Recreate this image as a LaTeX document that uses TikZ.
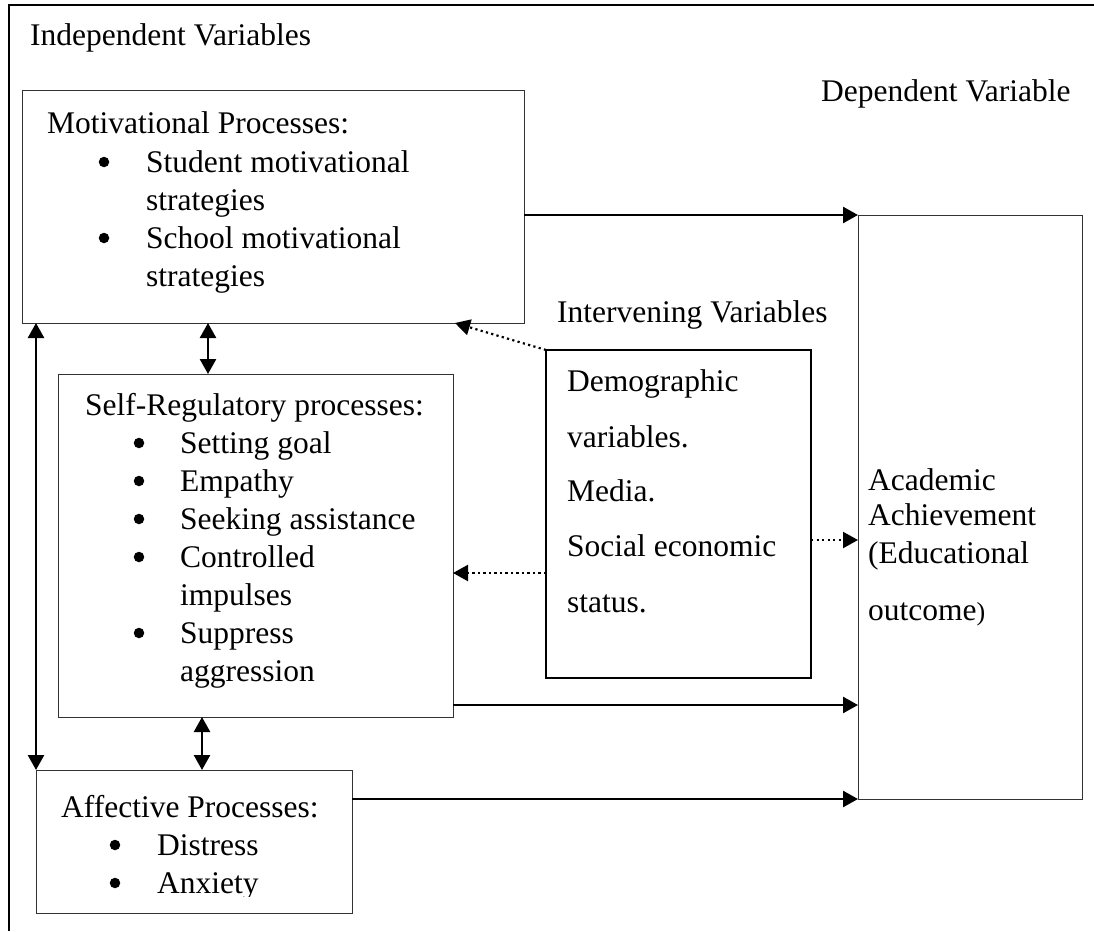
\documentclass[tikz,border=0pt]{standalone}
\usepackage{fontspec}
\setmainfont{Liberation Serif}
\usetikzlibrary{arrows.meta}
\tikzset{
  box/.style={draw=black!80,line width=1pt,inner sep=0pt,outer sep=0pt,anchor=north west},
  txt/.style={inner sep=0pt,anchor=base west,font=\fontsize{31.5}{37}\selectfont},
  bul/.style={circle,fill=black,inner sep=0pt,minimum size=10.5pt},
  arr/.style={line width=2.5pt,-{Triangle[length=15pt,width=16pt]}},
  dbl/.style={line width=2.5pt,{Triangle[length=15pt,width=16pt]}-{Triangle[length=15pt,width=16pt]}},
  dotarr/.style={line width=2.2pt,dash pattern=on 2.2pt off 3.3pt,-{Triangle[length=15pt,width=16pt]}}
}
\begin{document}
\begin{tikzpicture}[x=1pt,y=-1pt]
\useasboundingbox (0,0) rectangle (1094,931);
% frame
\draw[line width=2pt] (1094,5) -- (9,5) -- (9,931);
\node[txt] (indep) at (30,46) {Independent Variables};
\node[txt] (depend) at (821,102) {Dependent Variable};
\node[txt] (interv) at (557,322) {Intervening Variables};
% boxes
\node[box,minimum width=502pt,minimum height=232pt] (mot) at (22,91) {};
\node[box,minimum width=395pt,minimum height=343pt] (self) at (58,374) {};
\node[box,minimum width=316pt,minimum height=143pt] (aff) at (36,770) {};
\node[box,draw=black,line width=2pt,minimum width=265pt,minimum height=328pt] (demo) at (546,350) {};
\node[box,minimum width=224pt,minimum height=584pt] (dep) at (858,215) {};
% motivational processes
\node[txt] (motH) at (47,134) {Motivational Processes:};
\node[bul] (motB1) at (104,162) {};
\node[txt] (motT1) at (146,172) {Student motivational};
\node[txt] (motT2) at (146,210) {strategies};
\node[bul] (motB2) at (104,238) {};
\node[txt] (motT3) at (146,248) {School motivational};
\node[txt] (motT4) at (146,286) {strategies};
% self-regulatory processes
\node[txt] (selfH) at (85,415) {Self-Regulatory processes:};
\node[bul] (selfB1) at (139,443) {};
\node[txt] (selfT1) at (180,453) {Setting goal};
\node[bul] (selfB2) at (139,481) {};
\node[txt] (selfT2) at (180,491) {Empathy};
\node[bul] (selfB3) at (139,519) {};
\node[txt] (selfT3) at (180,529) {Seeking assistance};
\node[bul] (selfB4) at (139,557) {};
\node[txt] (selfT4) at (180,567) {Controlled};
\node[txt] (selfT5) at (180,605) {impulses};
\node[bul] (selfB5) at (139,633) {};
\node[txt] (selfT6) at (180,643) {Suppress};
\node[txt] (selfT7) at (180,681) {aggression};
% affective processes
\node[txt] (affH) at (61,817) {Affective Processes:};
\node[bul] (affB1) at (115,845) {};
\node[txt] (affT1) at (157,855) {Distress};
\node[bul] (affB2) at (115,883) {};
\begin{scope}
\clip (aff.north west) rectangle ([yshift=17pt]aff.south east);
\node[txt] (affT2) at (157,893) {Anxiety};
\end{scope}
% intervening variables
\node[txt] (demoT1) at (567,391) {Demographic};
\node[txt] (demoT2) at (567,447) {variables.};
\node[txt] (demoT3) at (567,501) {Media.};
\node[txt] (demoT4) at (567,556) {Social economic};
\node[txt] (demoT5) at (567,612) {status.};
% dependent variable
\node[txt] (depT1) at (868,490) {Academic};
\node[txt] (depT2) at (868,525) {Achievement};
\node[txt] (depT3) at (868,563) {(Educational};
\node[txt] (depT4) at (868,620) {outcome{\fontsize{26}{26}\selectfont)}};
% solid arrows
\draw[arr] (mot.east |- dep.north west) -- (dep.north west);
\draw[arr] ([yshift=12pt]self.south east) -- ([yshift=12pt]self.south east -| dep.west);
\draw[arr] (aff.east |- dep.south west) -- (dep.south west);
\draw[dbl] ([xshift=150pt]self.north west) -- ([xshift=150pt]self.north west |- mot.south);
\draw[dbl] ([xshift=144pt]self.south west) -- ([xshift=144pt]self.south west |- aff.north);
\draw[dbl] (aff.north west) -- (aff.north west |- mot.south);
% dotted arrows
\draw[dotarr] (demo.north west) -- ([xshift=-69pt]mot.south east);
\draw[dotarr] ([yshift=-59pt]demo.west) -- ([yshift=-59pt]demo.west -| self.east);
\draw[dotarr] ([yshift=-26pt]demo.east) -- ([yshift=-26pt]demo.east -| dep.west);
\end{tikzpicture}
\end{document}
